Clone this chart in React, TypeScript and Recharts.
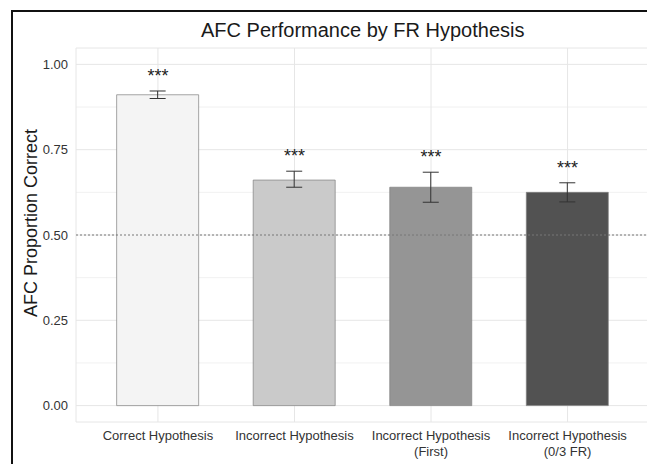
import {
  Bar,
  CartesianGrid,
  Cell,
  ComposedChart,
  ErrorBar,
  Line,
  ReferenceLine,
  XAxis,
  YAxis,
} from 'recharts';

const categories = [
  'Correct Hypothesis',
  'Incorrect Hypothesis',
  'Incorrect Hypothesis\n(First)',
  'Incorrect Hypothesis\n(0/3 FR)',
];
const means = [0.911, 0.661, 0.64, 0.625];
const lower = [0.9, 0.64, 0.596, 0.597];
const upper = [0.922, 0.687, 0.684, 0.653];
const majorTicks = [0, 0.25, 0.5, 0.75, 1];
const minorTicks = [0.125, 0.375, 0.625, 0.875];

const barFills = ['#f4f4f4', '#cacaca', '#959595', '#525252'];
const font = '"Liberation Sans", Arial, Helvetica, sans-serif';

const data = categories.map((name, i) => ({
  name,
  mean: means[i],
  err: [means[i] - lower[i], upper[i] - means[i]],
  upper: upper[i],
}));

const CategoryTick = (props: any) => {
  const { x, y, payload } = props;
  const lines = String(payload.value).split('\n');
  return (
    <text x={x} y={y + 18} textAnchor="middle" fontSize={13} fill="#333" fontFamily={font}>
      {lines.map((line, i) => (
        <tspan key={i} x={x} dy={i === 0 ? 0 : 15.5}>
          {line}
        </tspan>
      ))}
    </text>
  );
};

const renderStars = (props: any) => (
  <text
    key={`star-${props.index}`}
    x={props.cx}
    y={props.cy - 9}
    textAnchor="middle"
    fontSize={18}
    fill="#222"
    fontFamily={font}
  >
    ***
  </text>
);

export default function App() {
  return (
    <div
      style={{
        position: 'fixed',
        left: 0,
        top: 0,
        width: 647,
        height: 464,
        overflow: 'hidden',
        background: '#fff',
        fontFamily: font,
      }}
    >
      <div
        style={{
          position: 'absolute',
          left: 11,
          top: 10,
          width: 700,
          height: 500,
          borderLeft: '2px solid #111',
          borderTop: '2px solid #111',
        }}
      />
      <div
        style={{
          position: 'absolute',
          left: 76,
          width: 573.5,
          top: 20,
          lineHeight: '20px',
          fontSize: 20,
          textAlign: 'center',
          color: '#1a1a1a',
          whiteSpace: 'nowrap',
        }}
      >
        AFC Performance by FR Hypothesis
      </div>
      <div
        style={{
          position: 'absolute',
          left: 31,
          top: 223,
          transform: 'translate(-50%, -50%) rotate(-90deg)',
          fontSize: 18,
          lineHeight: '18px',
          color: '#1a1a1a',
          whiteSpace: 'nowrap',
        }}
      >
        AFC Proportion Correct
      </div>
      <div style={{ position: 'absolute', left: 0, top: 0 }}>
        <ComposedChart
          width={660}
          height={464}
          data={data}
          margin={{ top: 48, right: 10.5, bottom: 0, left: 16 }}
        >
          <CartesianGrid
            horizontalValues={minorTicks}
            vertical={false}
            stroke="#f1f1f1"
            strokeWidth={1}
          />
          <CartesianGrid stroke="#e6e6e6" strokeWidth={1} />
          <XAxis
            dataKey="name"
            height={42}
            padding={{ left: 13.65, right: 13.65 }}
            axisLine={false}
            tickLine={false}
            tickSize={0}
            tickMargin={0}
            interval={0}
            tick={<CategoryTick />}
          />
          <YAxis
            width={60}
            type="number"
            domain={[-0.048, 1.048]}
            allowDataOverflow
            ticks={majorTicks}
            tickFormatter={(v: number) => v.toFixed(2)}
            axisLine={false}
            tickLine={false}
            tickSize={8}
            tickMargin={0}
            tick={{ fontSize: 13, fill: '#333', fontFamily: font }}
          />
          <Bar
            dataKey="mean"
            barSize={82}
            stroke="#808080"
            strokeWidth={0.7}
            isAnimationActive={false}
          >
            {data.map((entry, index) => (
              <Cell key={`cell-${index}`} fill={barFills[index]} />
            ))}
            <ErrorBar dataKey="err" width={8} stroke="#333" strokeWidth={1} direction="y" />
          </Bar>
          <ReferenceLine y={0.5} stroke="#777" strokeDasharray="2 2" strokeWidth={1} />
          <Line
            dataKey="upper"
            stroke="none"
            dot={renderStars}
            activeDot={false}
            legendType="none"
            isAnimationActive={false}
          />
        </ComposedChart>
      </div>
    </div>
  );
}
